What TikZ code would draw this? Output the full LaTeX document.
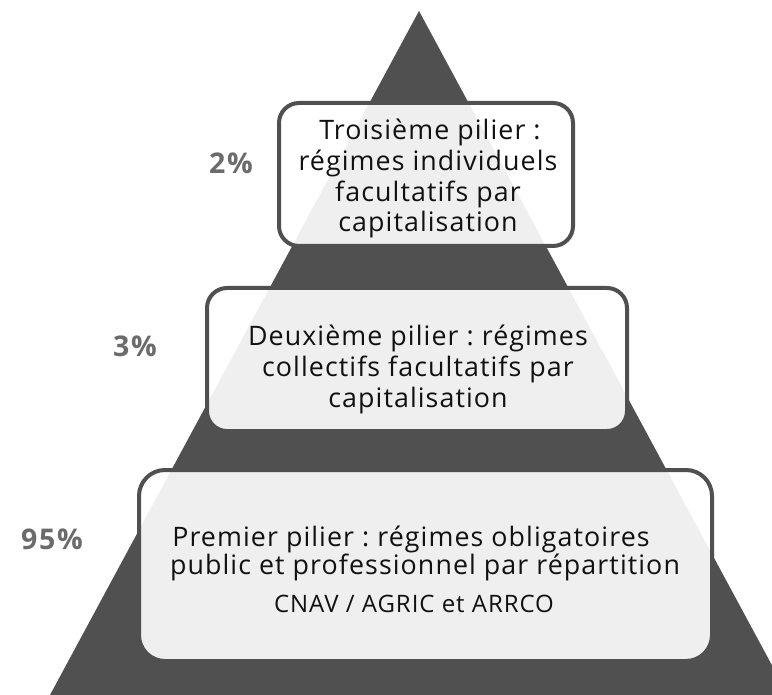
\documentclass[tikz,border=0pt]{standalone}
\usepackage{fontspec}
\setmainfont{Open Sans}[LetterSpace=4]
\newfontfamily\pctfont{Open Sans}[LetterSpace=6]
\definecolor{tridark}{HTML}{505050}
\definecolor{pctgray}{HTML}{6B6B6B}
\definecolor{txtblack}{HTML}{111111}
\begin{document}
\begin{tikzpicture}[x=1pt,y=-1pt,
  pbox/.style={draw=tridark, line width=4pt, fill=white, fill opacity=0.91, draw opacity=1, inner sep=0pt},
  line/.style={anchor=base, inner sep=0pt, text=txtblack, font=\fontsize{26.8}{30}\selectfont},
  smallline/.style={anchor=base, inner sep=0pt, text=txtblack, font=\fontsize{24}{28}\selectfont},
  pct/.style={anchor=base, inner sep=0pt, text=pctgray, font=\pctfont\bfseries\fontsize{28.5}{32}\selectfont}]
\useasboundingbox (0,0) rectangle (772,695);
\clip (0,0) rectangle (772,695);
\fill[white] (0,0) rectangle (772,695);
% pyramid
\coordinate (apex) at (419,11);
\coordinate (bl) at (50,695);
\coordinate (br) at (788,695);
\fill[tridark] (apex) -- (bl) -- (br) -- cycle;
% boxes
\node[pbox, minimum width=294, minimum height=143, rounded corners=20pt] (b1) at (426,174.5) {};
\node[pbox, minimum width=420, minimum height=143, rounded corners=20pt] (b2) at (417,359.5) {};
\node[pbox, minimum width=573, minimum height=191, rounded corners=26pt] (b3) at (425.5,565.5) {};
% box 1 text
\node[line] (t1a) at (430,140) {Troisième pilier :};
\node[line] (t1b) at (428,171) {régimes individuels};
\node[line] (t1c) at (428,202) {facultatifs par};
\node[line] (t1d) at (428,232) {capitalisation};
% box 2 text
\node[line] (t2a) at (418,346) {Deuxième pilier :\ régimes};
\node[line] (t2b) at (418,377) {collectifs facultatifs par};
\node[line] (t2c) at (418,407) {capitalisation};
% box 3 text
\node[line] (t3a) at (411,546) {Premier pilier :\ régimes obligatoires};
\node[line] (t3b) at (425,574) {public et professionnel par répartition};
\node[smallline] (t3c) at (414,612) {CNAV / AGRIC et ARRCO};
% percentages
\node[pct] (p1) at (231,174) {2\%};
\node[pct] (p2) at (135,356) {3\%};
\node[pct] (p3) at (52,549) {95\%};
\end{tikzpicture}
\end{document}
